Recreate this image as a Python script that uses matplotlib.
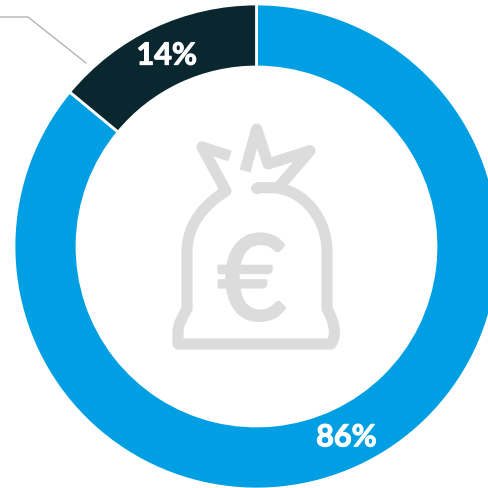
import matplotlib
matplotlib.use('Agg')
import matplotlib.pyplot as plt
import matplotlib.patheffects as pe
from matplotlib.path import Path
from matplotlib.patches import PathPatch

values = [86, 14]
colors = ['#009fe3', '#0a2730']

W, H = 488, 489
ICON = '#dcdcdc'


# picture pixels (y down) to axes coordinates
def px(x, y):
    return (x, H - y)


fig = plt.figure(figsize=(W / 100, H / 100), dpi=100)
ax = fig.add_axes([0, 0, 1, 1])

wedges, _, pcts = ax.pie(values, colors=colors, center=px(256.5, 247.5), radius=242.5,
                         startangle=90, counterclock=False,
                         autopct='%d%%', pctdistance=0.87,
                         wedgeprops=dict(width=63, edgecolor='white', linewidth=2))
for t in pcts:
    t.set_color('white')
    t.set_fontfamily('Lato')
    t.set_fontweight('bold')
    t.set_fontsize(22)
    t.set_path_effects([pe.withStroke(linewidth=0.8, foreground='white')])

# leader line
lx, ly = zip(px(0, 18), px(28, 18), px(86, 64))
ax.plot(lx, ly, color='#b4b4b4', lw=1)


# money bag icon
def bag(points, codes, cap='butt'):
    p = Path([px(*q) for q in points], codes)
    ax.add_patch(PathPatch(p, fill=False, edgecolor=ICON, lw=8,
                           capstyle=cap, joinstyle='round'))


M, L, C = Path.MOVETO, Path.LINETO, Path.CURVE4
bag([(256, 188.7), (275, 188.7), (305, 192), (327, 220), (327, 253), (327, 310),
     (333, 320), (338, 335), (331, 345), (178, 345), (178, 333),
     (178, 325), (183, 317), (187, 310), (187, 253),
     (187, 225), (205, 205), (226, 192), (202, 148), (230, 157)],
    [M, L, C, C, C, L, C, C, C, L, L, C, C, C, L, C, C, C, L, L])
bag([(256, 188.7), (258, 188.7)], [M, L], cap='round')
bag([(245, 172), (256.7, 130), (268, 165), (310, 151.7), (278, 189)],
    [M, L, L, L, L])

ax.text(252, H - 287, '€', color=ICON, fontsize=85, family='Lato',
        ha='center', va='center',
        path_effects=[pe.withStroke(linewidth=2.5, foreground=ICON)])

ax.set_xlim(0, W)
ax.set_ylim(0, H)
ax.set_aspect('auto')
ax.set_axis_off()

fig.savefig('out.png', dpi=100)
